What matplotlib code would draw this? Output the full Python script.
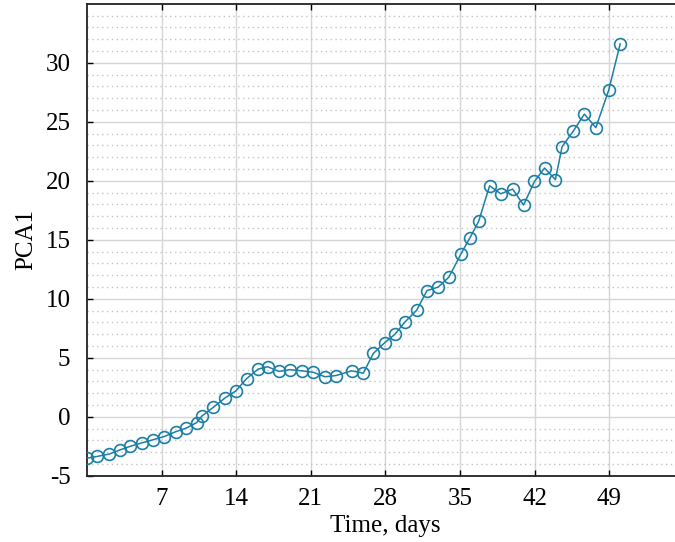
import matplotlib
matplotlib.use("Agg")
import matplotlib.pyplot as plt
import numpy as np

plt.rcParams['font.family'] = ['Liberation Serif', 'DejaVu Serif']
plt.rcParams['axes.unicode_minus'] = False

# time (days) and first principal component
days = [0, 0.96, 2.08, 3.09, 4.03, 5.15, 6.16, 7.22, 8.34, 9.28,
        10.28, 10.75, 11.84, 12.94, 13.97, 14.98, 16.06, 16.95, 18.0, 19.04,
        20.14, 21.23, 22.32, 23.36, 24.83, 25.92, 26.86, 27.95, 28.89, 29.83,
        30.93, 31.9, 32.96, 33.96, 35.06, 35.93, 36.75, 37.78, 38.82, 39.94,
        40.96, 41.99, 42.93, 43.95, 44.58, 45.62, 46.67, 47.75, 48.95, 50.03]
pca1 = [-3.5, -3.35, -3.15, -2.8, -2.5, -2.2, -1.95, -1.67, -1.25, -0.96,
        -0.49, 0.05, 0.8, 1.6, 2.2, 3.25, 4.05, 4.25, 3.85, 4.0,
        3.9, 3.78, 3.4, 3.5, 3.9, 3.7, 5.37, 6.3, 7.0, 8.04,
        9.03, 10.7, 11.0, 11.84, 13.76, 15.17, 16.57, 19.58, 18.9, 19.3,
        17.95, 19.95, 21.08, 20.1, 22.9, 24.2, 25.65, 24.51, 27.67, 31.6]

xticks = [7, 14, 21, 28, 35, 42, 49]
yticks = [-5, 0, 5, 10, 15, 20, 25, 30]

fig = plt.figure(figsize=(6.75, 5.42), dpi=100)
ax = fig.add_axes([0.129, 0.122, 0.884, 0.871])

ax.plot(days, pca1, color='#1b7fa6', linewidth=1.1, marker='o', markersize=8.5,
        markerfacecolor='none', markeredgecolor='#1b7fa6', markeredgewidth=1.2, zorder=3)

ax.set_xlim(0, 56)
ax.set_ylim(-5, 35)
ax.set_xticks(xticks)
ax.set_yticks(yticks)
ax.set_yticks(np.arange(-5, 35, 1), minor=True)

ax.grid(which='major', color='#d6d6d6', linestyle='-', linewidth=1.0)
ax.grid(which='minor', axis='y', color='#c4c4c4', linestyle=(0, (1, 2.5)), linewidth=1.0)
ax.set_axisbelow(True)

ax.tick_params(which='major', direction='in', length=4, width=1, top=True,
               labelsize=18)
ax.tick_params(axis='x', pad=9)
ax.tick_params(axis='y', pad=12)
ax.tick_params(which='minor', length=0)
for s in ax.spines.values():
    s.set_color('#222222')
    s.set_linewidth(1.3)

ax.set_xlabel('Time, days', fontsize=18, labelpad=3)
ax.set_ylabel('PCA1', fontsize=18, labelpad=6)

fig.savefig('out.png', dpi=100)
